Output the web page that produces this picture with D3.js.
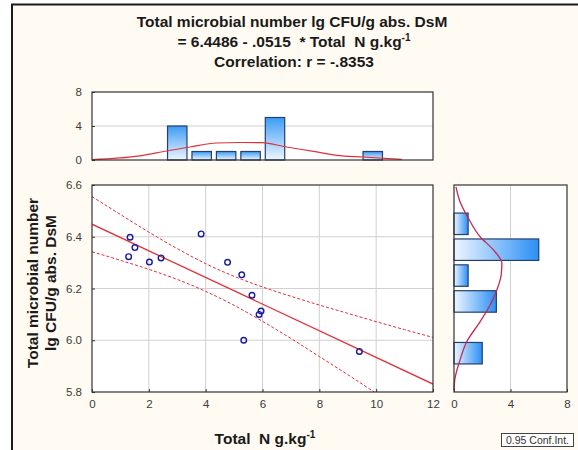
<!DOCTYPE html>
<html><head><meta charset="utf-8">
<script src="https://cdn.jsdelivr.net/npm/d3@7"></script>
<style>
html,body{margin:0;padding:0;background:#ffffff;}
svg{display:block;}
text{white-space:pre;}
</style></head>
<body>
<svg id="chart" width="578" height="450"></svg>
<script>
// ---- data ----
const scatterX = [1.34,1.51,1.29,2.02,2.43,3.84,4.77,5.27,5.63,5.95,5.88,5.34,9.41];
const scatterY = [6.398,6.358,6.323,6.302,6.318,6.411,6.301,6.253,6.174,6.113,6.100,6.000,5.957];
const regX = [0,12];
const regY = [6.4486,5.8306];
const bandX = [0,1,2,3,4,5,6,7,8,9,10,11,12];
const bandUpper = [6.555,6.486,6.418,6.354,6.296,6.247,6.206,6.170,6.136,6.104,6.072,6.041,6.011];
const bandLower = [6.342,6.309,6.274,6.235,6.189,6.135,6.073,6.007,5.937,5.867,5.795,5.723,5.651];
const topBinCenters = [3.0,3.86,4.72,5.58,6.44,7.30,8.16,9.02,9.88];
const topCounts = [4,1,1,1,5,0,0,0,1];
const topCurveX = [0,1.69,2.63,3.45,4.39,5.2,5.97,6.85,7.79,8.61,9.55,10.9];
const topCurveY = [0.04,0.48,1.06,1.53,2.0,2.06,2.04,1.53,1.02,0.55,0.35,0.08];
const rightBinCenters = [6.45,6.35,6.25,6.15,6.05,5.95];
const rightCounts = [1,6,1,3,0,2];
const rightCurveY = [6.593,6.535,6.471,6.40,6.349,6.297,6.252,6.194,6.136,6.072,5.994,5.924,5.853,5.808];
const rightCurveX = [0.14,0.43,1.02,1.85,2.79,3.39,3.34,3.03,2.56,1.85,0.9,0.43,0.07,0.0];
const xTicks = [0,2,4,6,8,10,12];
const yTicks = [5.8,6.0,6.2,6.4,6.6];
const histTicks = [0,4,8];
const titleLines = ["Total microbial number lg CFU/g abs. DsM","= 6.4486 - .0515  * Total  N g.kg","Correlation: r = -.8353"];
const yLabelLines = ["Total microbial number","lg CFU/g abs. DsM"];
const xLabel = "Total  N g.kg";

// ---- layout ----
const svg = d3.select("#chart");
const M = {l:92, r:433, t:185, b:392};
const TH = {t:92, b:160};
const RH = {l:454, r:567};
const narrow = "'Liberation Sans Narrow','Arial Narrow','Liberation Sans',Arial,sans-serif";
const bold = "'Liberation Sans',Arial,sans-serif";

const x = d3.scaleLinear().domain([0,12]).range([M.l,M.r]);
const y = d3.scaleLinear().domain([5.8,6.6]).range([M.b,M.t]);
const yTop = d3.scaleLinear().domain([0,8]).range([TH.b,TH.t]);
const xRight = d3.scaleLinear().domain([0,8]).range([RH.l,RH.r]);

// background frame
svg.append("rect").attr("x",12).attr("y",4.5).attr("width",600).attr("height",500)
  .attr("fill","#fffaf2").attr("stroke","#1a1a1a").attr("stroke-width",2);

const defs = svg.append("defs");
const gv = defs.append("linearGradient").attr("id","gv").attr("x1",0).attr("y1",1).attr("x2",0).attr("y2",0);
gv.append("stop").attr("offset","0%").attr("stop-color","#eef6ff");
gv.append("stop").attr("offset","100%").attr("stop-color","#3d9bf5");
const gh = defs.append("linearGradient").attr("id","gh").attr("x1",0).attr("y1",0).attr("x2",1).attr("y2",0);
gh.append("stop").attr("offset","0%").attr("stop-color","#eef6ff");
gh.append("stop").attr("offset","100%").attr("stop-color","#2b8ff5");
defs.append("clipPath").attr("id","clipM").append("rect")
  .attr("x",M.l).attr("y",M.t).attr("width",M.r-M.l).attr("height",M.b-M.t);

// plot areas
function area(x0,y0,x1,y1){
  svg.append("rect").attr("x",x0).attr("y",y0).attr("width",x1-x0).attr("height",y1-y0).attr("fill","#fff");
}
area(M.l,M.t,M.r,M.b); area(M.l,TH.t,M.r,TH.b); area(RH.l,M.t,RH.r,M.b);

const gridC = "#d0d0d0";
// main grid
svg.append("g").selectAll("line").data(xTicks.slice(1,-1)).join("line")
  .attr("x1",d=>x(d)).attr("x2",d=>x(d)).attr("y1",M.t).attr("y2",M.b).attr("stroke",gridC).attr("stroke-width",1);
svg.append("g").selectAll("line").data(yTicks.slice(1,-1)).join("line")
  .attr("y1",d=>y(d)).attr("y2",d=>y(d)).attr("x1",M.l).attr("x2",M.r).attr("stroke",gridC).attr("stroke-width",1);
// hist grids
svg.append("line").attr("x1",M.l).attr("x2",M.r).attr("y1",yTop(4)).attr("y2",yTop(4)).attr("stroke",gridC);
svg.append("line").attr("x1",xRight(4)).attr("x2",xRight(4)).attr("y1",M.t).attr("y2",M.b).attr("stroke",gridC);

// top histogram bars
const topBinW = 0.86;
svg.append("g").selectAll("rect").data(topBinCenters.map((c,i)=>({c,n:topCounts[i]})).filter(d=>d.n>0)).join("rect")
  .attr("x",d=>x(d.c-topBinW/2)+2.5).attr("width",d=>x(d.c+topBinW/2)-x(d.c-topBinW/2)-5)
  .attr("y",d=>yTop(d.n)).attr("height",d=>yTop(0)-yTop(d.n))
  .attr("fill","url(#gv)").attr("stroke","#24406e").attr("stroke-width",1.2);
// right histogram bars
const rBinW = 0.1;
svg.append("g").selectAll("rect").data(rightBinCenters.map((c,i)=>({c,n:rightCounts[i]})).filter(d=>d.n>0)).join("rect")
  .attr("y",d=>y(d.c+rBinW/2)+2.2).attr("height",d=>y(d.c-rBinW/2)-y(d.c+rBinW/2)-4.4)
  .attr("x",xRight(0)).attr("width",d=>xRight(d.n)-xRight(0))
  .attr("fill","url(#gh)").attr("stroke","#24406e").attr("stroke-width",1.2);

// curves
svg.append("path").datum(topCurveX.map((v,i)=>[v,topCurveY[i]]))
  .attr("d",d3.line().x(d=>x(d[0])).y(d=>yTop(d[1])).curve(d3.curveMonotoneX))
  .attr("fill","none").attr("stroke","#e0303c").attr("stroke-width",1.2);
svg.append("path").datum(rightCurveY.map((v,i)=>[rightCurveX[i],v]))
  .attr("d",d3.line().x(d=>xRight(d[0])).y(d=>y(d[1])).curve(d3.curveMonotoneY))
  .attr("fill","none").attr("stroke","#c42a55").attr("stroke-width",1.3);

// regression and bands
const gm = svg.append("g").attr("clip-path","url(#clipM)");
gm.append("path").datum(bandX.map((v,i)=>[v,bandUpper[i]]))
  .attr("d",d3.line().x(d=>x(d[0])).y(d=>y(d[1])).curve(d3.curveMonotoneX))
  .attr("fill","none").attr("stroke","#d9303c").attr("stroke-width",1).attr("stroke-dasharray","3,2");
gm.append("path").datum(bandX.map((v,i)=>[v,bandLower[i]]))
  .attr("d",d3.line().x(d=>x(d[0])).y(d=>y(d[1])).curve(d3.curveMonotoneX))
  .attr("fill","none").attr("stroke","#d9303c").attr("stroke-width",1).attr("stroke-dasharray","3,2");
gm.append("path").datum(regX.map((v,i)=>[v,regY[i]]))
  .attr("d",d3.line().x(d=>x(d[0])).y(d=>y(d[1])))
  .attr("fill","none").attr("stroke","#e03038").attr("stroke-width",1.3);

// scatter points
gm.append("g").selectAll("circle").data(scatterX.map((v,i)=>[v,scatterY[i]])).join("circle")
  .attr("cx",d=>x(d[0])).attr("cy",d=>y(d[1])).attr("r",2.8)
  .attr("fill","none").attr("stroke","#1a1aa0").attr("stroke-width",1.4);

// borders
function border(x0,y0,x1,y1){
  svg.append("rect").attr("x",x0).attr("y",y0).attr("width",x1-x0).attr("height",y1-y0)
    .attr("fill","none").attr("stroke","#333").attr("stroke-width",1.2);
}
border(M.l,M.t,M.r,M.b); border(M.l,TH.t,M.r,TH.b); border(RH.l,M.t,RH.r,M.b);

// axes (tick labels)
const tickStyle = s => s.attr("font-family",narrow).attr("font-size",11.5).attr("fill","#3a3a3a");
const axB = d3.axisBottom(x).tickValues(xTicks).tickSize(3).tickPadding(5).tickFormat(d3.format("d"));
const gxb = svg.append("g").attr("transform",`translate(0,${M.b})`).call(axB);
const axL = d3.axisLeft(y).tickValues(yTicks).tickSize(3).tickPadding(7).tickFormat(d3.format(".1f"));
const gyl = svg.append("g").attr("transform",`translate(${M.l},0)`).call(axL);
const axT = d3.axisLeft(yTop).tickValues(histTicks).tickSize(3).tickPadding(7);
const gyt = svg.append("g").attr("transform",`translate(${M.l},0)`).call(axT);
const axR = d3.axisBottom(xRight).tickValues(histTicks).tickSize(3).tickPadding(5);
const gxr = svg.append("g").attr("transform",`translate(0,${M.b})`).call(axR);
[gxb,gyl,gyt,gxr].forEach(g=>{
  g.select(".domain").remove();
  g.selectAll(".tick line").attr("stroke","#333");
  tickStyle(g.selectAll("text"));
});
// inward tick marks
gxb.selectAll(".tick line").attr("y2",-3);
gyl.selectAll(".tick line").attr("x2",3);
gyt.selectAll(".tick line").attr("x2",3);
gxr.selectAll(".tick line").attr("y2",-3);

// title
const tg = svg.append("g").attr("font-family",bold).attr("font-weight","bold").attr("font-size",15.5).attr("fill","#1a1a1a").attr("text-anchor","middle");
tg.append("text").attr("x",292).attr("y",27).text(titleLines[0]);
const t2 = tg.append("text").attr("x",294).attr("y",47);
t2.append("tspan").text(titleLines[1]);
t2.append("tspan").attr("dy",-6).attr("font-size",10).text("-1");
tg.append("text").attr("x",294).attr("y",67).text(titleLines[2]);

// y label
const yl = svg.append("g").attr("font-family",bold).attr("font-weight","bold").attr("font-size",15.5).attr("fill","#1a1a1a").attr("text-anchor","middle");
yl.append("text").attr("transform","translate(38,283) rotate(-90)").text(yLabelLines[0]);
yl.append("text").attr("transform","translate(56,283) rotate(-90)").text(yLabelLines[1]);

// x label
const xl = svg.append("text").attr("x",265).attr("y",444).attr("font-family",bold).attr("font-weight","bold")
  .attr("font-size",15.5).attr("fill","#1a1a1a").attr("text-anchor","middle");
xl.append("tspan").text(xLabel);
xl.append("tspan").attr("dy",-6).attr("font-size",10).text("-1");

// conf box
svg.append("rect").attr("x",501.5).attr("y",433.5).attr("width",72).attr("height",13).attr("fill","#fff").attr("stroke","#444").attr("stroke-width",1);
svg.append("text").attr("x",537.5).attr("y",444).attr("text-anchor","middle").attr("font-family",narrow).attr("font-size",10.5).attr("fill","#333").text("0.95 Conf.Int.");
</script>
</body></html>
